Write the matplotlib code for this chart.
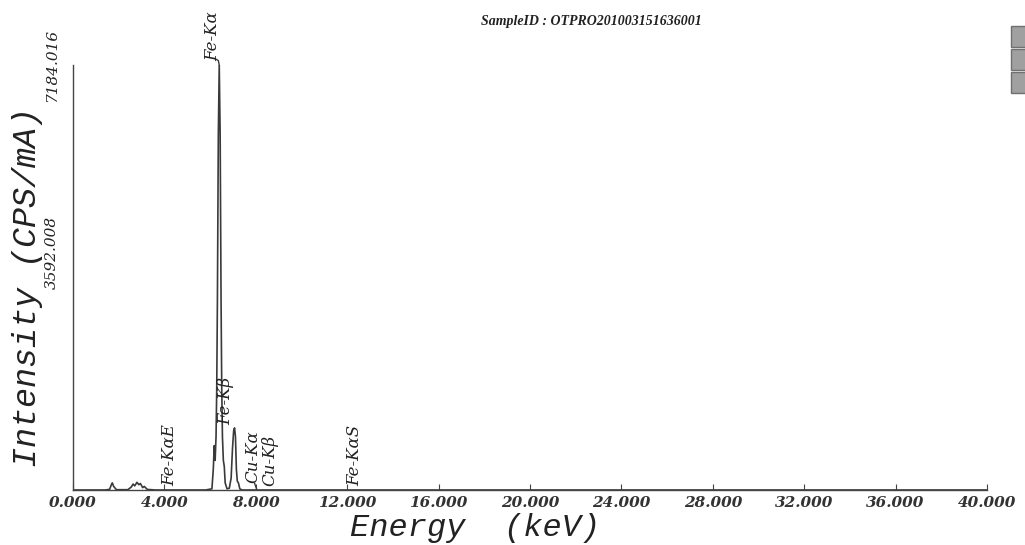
# Spectre XRF : intensité en fonction de l'énergie (Fe-Ka dominant)
import matplotlib
matplotlib.use("Agg")
import matplotlib.pyplot as plt
from matplotlib.patches import Rectangle

# Données
energie = [0.0, 1.40, 1.60, 1.68, 1.72, 1.78, 1.90, 2.40, 2.55, 2.63, 2.70, 2.80, 2.88,
           2.95, 3.05, 3.12, 3.25, 3.60, 5.80, 6.08, 6.14, 6.18, 6.22, 6.26, 6.29,
           6.32, 6.36, 6.40, 6.44, 6.48, 6.51, 6.54, 6.58, 6.62, 6.66, 6.74, 6.84,
           6.92, 6.98, 7.03, 7.07, 7.11, 7.15, 7.19, 7.24, 7.30, 7.40, 8.00, 40.0]
intensite = [0, 0, 10, 90, 120, 60, 5, 5, 50, 100, 70, 130, 90,
             110, 40, 60, 10, 0, 0, 20, 350, 750, 500, 900, 1700,
             3200, 6000, 7184.016, 6000, 3200, 1700, 900, 500, 400, 120, 20, 30,
             200, 700, 1000, 1050, 900, 350, 150, 120, 20, 0, 0, 0]

graduations_x = [0, 4, 8, 12, 16, 20, 24, 28, 32, 36, 40]
graduations_y = [3592.008, 7184.016]
decalage_y = [18, 0]  # décalage (points) des étiquettes verticales

raies = ["Fe-K\u03b1", "Fe-K\u03b2", "Fe-K\u03b1E", "Cu-K\u03b1", "Cu-K\u03b2", "Fe-K\u03b1S"]
raies_x = [6.13, 6.68, 4.25, 7.88, 8.62, 12.34]
raies_y = [7260, 1100, 60, 120, 60, 60]

serif = "DejaVu Serif"
mono = "Liberation Mono"

fig = plt.figure(figsize=(10.25, 5.45), dpi=100)
ax = fig.add_axes([73 / 1025, 1 - 490 / 545, (987 - 73) / 1025, (490 - 65) / 545])

ax.plot(energie, intensite, color="#3a3a3a", lw=1.2)
ax.set_xlim(0, 40)
ax.set_ylim(0, 7184.016)

for s in ["top", "right"]:
    ax.spines[s].set_visible(False)
for s in ["left", "bottom"]:
    ax.spines[s].set_color("#444444")
    ax.spines[s].set_linewidth(1.0)

ax.set_xticks(graduations_x)
ax.set_xticklabels(["%.3f" % v for v in graduations_x], fontfamily=serif,
                   fontstyle="italic", fontweight="bold", fontsize=11, color="#333333")
ax.tick_params(axis="x", direction="in", length=4, pad=4, color="#444444")
ax.set_yticks([])

for v, d in zip(graduations_y, decalage_y):
    ax.annotate("%.3f" % v, xy=(0, v), xycoords=("axes fraction", "data"),
                xytext=(-15, d), textcoords="offset points", rotation=90,
                ha="center", va="center", fontfamily=serif, fontstyle="italic",
                fontsize=11, color="#222222", annotation_clip=False)

ax.set_xlabel("Energy  (keV)", fontfamily=mono, fontstyle="italic",
              fontsize=23, color="#222222")
ax.xaxis.set_label_coords((475 - 73) / 914, -23 / 425)
ax.set_ylabel("Intensity (CPS/mA)", fontfamily=mono, fontstyle="italic",
              fontsize=24, color="#222222")
ax.yaxis.set_label_coords(-30 / 914, (490 - 287) / 425)

for nom, x, y in zip(raies, raies_x, raies_y):
    ax.text(x, y, nom, rotation=90, ha="center", va="bottom", fontfamily=serif,
            fontstyle="italic", fontsize=12, color="#222222", clip_on=False)

# petits traits de rappel
ax.plot([6.40, 6.36, 6.22], [7184.016, 7260, 7290], color="#3a3a3a", lw=1, clip_on=False)
ax.plot([8.04, 7.95], [10, 110], color="#3a3a3a", lw=1)

fig.text(591 / 1025, 1 - 22 / 545, "SampleID : OTPRO201003151636001", ha="center",
         va="center", fontfamily="Liberation Serif", fontstyle="italic", fontweight="bold",
         fontsize=10, color="#222222")

# boutons gris en haut à droite
for i in range(3):
    fig.patches.append(Rectangle((1011 / 1025, 1 - (47 + 23 * i) / 545), 0.02, 21 / 545,
                                 transform=fig.transFigure, facecolor="#a0a0a0",
                                 edgecolor="#707070", lw=1))

fig.savefig("out.png", dpi=100)
